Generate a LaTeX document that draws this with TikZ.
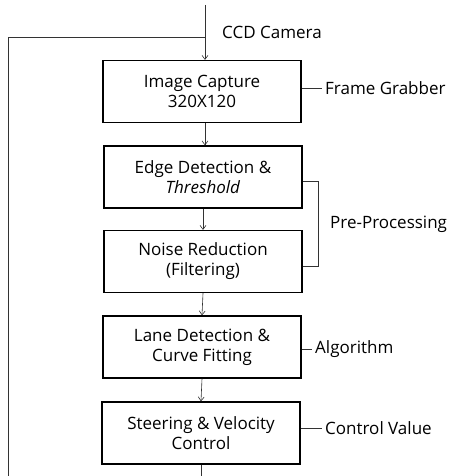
\documentclass[tikz,border=0pt]{standalone}
\usepackage{fontspec}
\setmainfont{Open Sans}
\usetikzlibrary{arrows.meta}
\begin{document}
\begin{tikzpicture}[x=1pt,y=-1pt,
  box/.style={draw=black,line width=1.3pt,minimum width=198pt,minimum height=62pt,inner sep=0pt,align=center,font=\fontsize{17}{20}\selectfont},
  lbl/.style={anchor=west,inner sep=3pt,font=\fontsize{17}{20}\selectfont},
  conn/.style={draw=black!80,line width=0.6pt},
  arr/.style={conn,-{Straight Barb[length=4pt,width=6pt]}}]
\useasboundingbox (0,0) rectangle (451,476);
\node[box] (b1) at (202,91.5) {Image Capture\\320X120};
\node[box] (b2) at (203,177) {Edge Detection \&\\\textit{Threshold}};
\node[box] (b3) at (203,261.5) {Noise Reduction\\(Filtering)};
\node[box] (b4) at (202,347) {Lane Detection \&\\Curve Fitting};
\node[box] (b5) at (201,433) {Steering \& Velocity\\Control};
\node[lbl] (ccd) at (219,32) {CCD Camera};
\node[lbl] (fg) at (322,88) {Frame Grabber};
\node[lbl] (pp) at (327,224) {Pre-Processing};
\node[lbl] (alg) at (312,349) {Algorithm};
\node[lbl] (cv) at (322,428) {Control Value};
\coordinate (top) at (205,5);
\coordinate (corner) at (8,37);
\coordinate (bl) at (8,476);
\draw[arr] (top) -- (top |- b1.north);
\draw[conn] (bl) -- (corner) -- (corner -| top);
\draw[conn] (b5.south) -- (b5.south |- bl);
\draw[arr] (b1.south -| top) -- (b2.north -| top);
\draw[arr] (b2.south) -- (b3.north);
\draw[arr] (b3.south) -- (b4.north);
\draw[arr] (b4.south) -- (b5.north);
\draw[conn] (fg.west -| b1.east) -- (fg.west);
\draw[conn] (alg.west -| b4.east) -- (alg.west);
\draw[conn] (cv.west -| b5.east) -- (cv.west);
\draw[conn] (b2.east |- 0,181) -- (318,181) -- (318,266) -- (b3.east |- 0,266);
\end{tikzpicture}
\end{document}
